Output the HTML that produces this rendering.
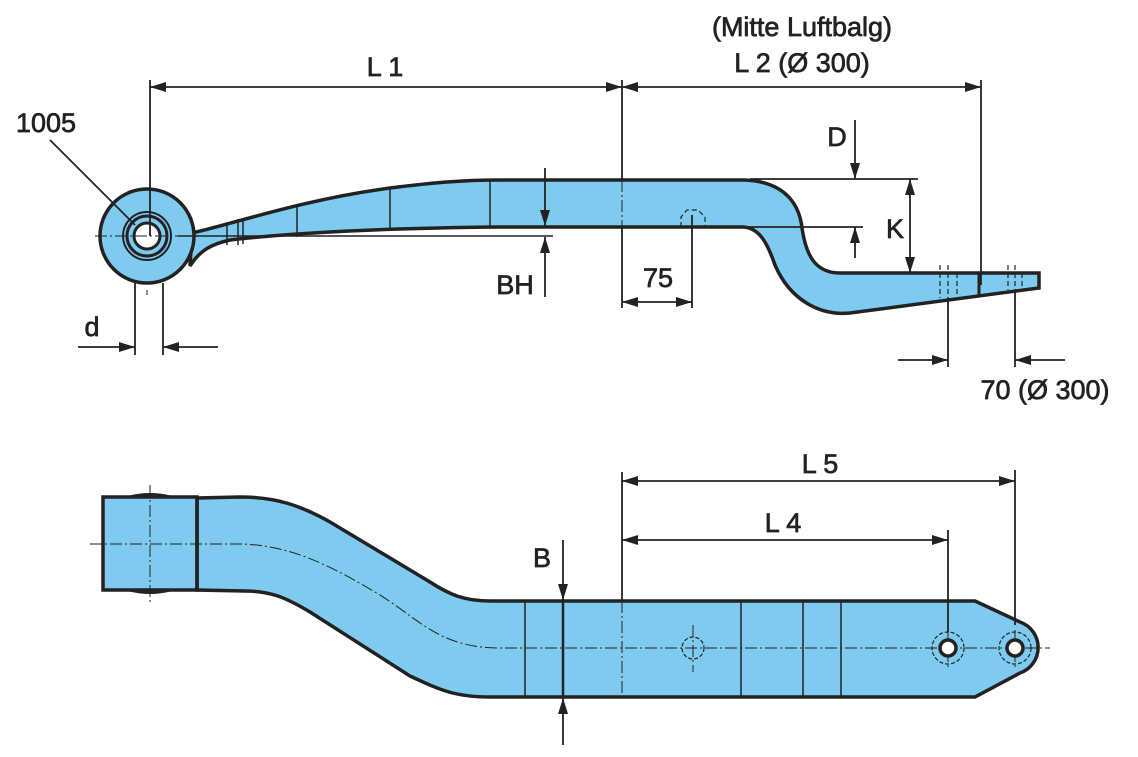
<!DOCTYPE html>
<html><head><meta charset="utf-8"><style>
html,body{margin:0;padding:0;background:#fff}
svg{display:block}
text{font-family:"Liberation Sans",sans-serif;font-size:27px;fill:#222;stroke:#222;stroke-width:0.7}
</style></head><body>
<svg width="1138" height="757" viewBox="0 0 1138 757" xmlns="http://www.w3.org/2000/svg">
<defs>
<marker id="a" viewBox="0 0 16 10" refX="16" refY="5" markerWidth="16" markerHeight="10" markerUnits="userSpaceOnUse" orient="auto-start-reverse"><path d="M0,0 L16,5 L0,10 z" fill="#222"/></marker>
</defs>
<g stroke="#222" fill="none">
<path d="M192,233 C230,225 300,200 390,188 C430,183 460,180 500,180 L745,180 C790,182 800,210 802,228 C806,255 815,273 840,273 L1039,273 L1039,288 L850,313 C820,316 790,300 775,265 C768,245 760,227 742,227 L500,227 C400,228 300,232 230,240 C212,244 200,250 190,266 Z" fill="#7ecbef" stroke-width="3.5"/>
<circle cx="147" cy="236" r="47" fill="#7ecbef" stroke-width="3.5"/>
<circle cx="147" cy="236" r="24" stroke-width="2"/>
<circle cx="147" cy="236" r="20" stroke-width="3"/>
<circle cx="147" cy="236" r="13" fill="#fff" stroke-width="3"/>
<g stroke-width="1.5">
<line x1="227" y1="222" x2="227" y2="245"/><line x1="238" y1="219" x2="238" y2="245"/><line x1="243" y1="218" x2="243" y2="244"/>
<line x1="297" y1="207" x2="297" y2="237"/><line x1="390" y1="188" x2="390" y2="231"/><line x1="490" y1="180" x2="490" y2="228"/>
<line x1="178" y1="236" x2="553" y2="236"/>
<line x1="979" y1="273" x2="979" y2="296" stroke-width="3"/>
</g>
<g stroke-width="1.2" stroke-dasharray="5,3">
<line x1="940" y1="265" x2="940" y2="298"/><line x1="948" y1="265" x2="948" y2="298"/><line x1="957" y1="273" x2="957" y2="296"/>
<line x1="1008" y1="265" x2="1008" y2="290"/><line x1="1015" y1="265" x2="1015" y2="290"/><line x1="1022" y1="273" x2="1022" y2="288"/>
<path d="M681,227 L681,217 L687,210 L698,210 L705,217 L705,227"/>
</g>
<g stroke-width="1" stroke-dasharray="12,3,2,3">
<line x1="95" y1="236" x2="200" y2="236"/><line x1="147" y1="290" x2="147" y2="295"/>
<line x1="622" y1="180" x2="622" y2="227"/>
</g>
<g stroke-width="1.8">
<line x1="150" y1="80" x2="150" y2="236"/>
<line x1="622" y1="80" x2="622" y2="180"/><line x1="622" y1="227" x2="622" y2="308"/>
<line x1="981" y1="80" x2="981" y2="285"/>
<line x1="150" y1="87" x2="622" y2="87" marker-start="url(#a)" marker-end="url(#a)"/>
<line x1="622" y1="87" x2="981" y2="87" marker-start="url(#a)" marker-end="url(#a)"/>
<line x1="750" y1="179" x2="918" y2="179"/><line x1="745" y1="227" x2="863" y2="227"/>
<line x1="855" y1="120" x2="855" y2="179" marker-end="url(#a)"/>
<line x1="855" y1="258" x2="855" y2="227" marker-end="url(#a)"/>
<line x1="910" y1="179" x2="910" y2="273" marker-start="url(#a)" marker-end="url(#a)"/>
<line x1="545" y1="168" x2="545" y2="226" marker-end="url(#a)"/>
<line x1="545" y1="297" x2="545" y2="237" marker-end="url(#a)"/>
<line x1="692" y1="215" x2="692" y2="308"/>
<line x1="622" y1="302" x2="692" y2="302" marker-start="url(#a)" marker-end="url(#a)"/>
<line x1="135" y1="283" x2="135" y2="355"/><line x1="163" y1="283" x2="163" y2="355"/>
<line x1="78" y1="347" x2="135" y2="347" marker-end="url(#a)"/>
<line x1="218" y1="347" x2="163" y2="347" marker-end="url(#a)"/>
<line x1="948" y1="298" x2="948" y2="367"/><line x1="1015" y1="290" x2="1015" y2="367"/>
<line x1="898" y1="360" x2="948" y2="360" marker-end="url(#a)"/>
<line x1="1065" y1="360" x2="1015" y2="360" marker-end="url(#a)"/>
<line x1="50" y1="140" x2="135" y2="225"/>
</g>

<path d="M197,498 L240,497 C275,497 300,505 330,522 L430,582 C450,595 465,601 490,601 L975,601 L1020,622 A27,27 0 0 1 1020,673 L975,697 L490,697 C455,697 440,690 410,676 L310,612 C285,597 270,591 245,591 L197,590 Z" fill="#7ecbef" stroke-width="3.5"/>
<rect x="103" y="497" width="94" height="93" fill="#7ecbef" stroke-width="3.5"/>
<line x1="197" y1="497" x2="197" y2="590" stroke-width="3.5"/>
<path d="M130,497 Q150,492 170,497 M130,590 Q150,595 170,590" stroke-width="3"/>
<g stroke-width="1.5">
<line x1="525" y1="601" x2="525" y2="697"/><line x1="741" y1="601" x2="741" y2="697"/>
<line x1="803" y1="601" x2="803" y2="697"/><line x1="841" y1="601" x2="841" y2="697"/>
</g>
<g stroke-width="1" stroke-dasharray="12,3,2,3">
<path d="M90,544 L240,544 C290,545 330,565 380,595 C420,620 440,648 500,648 L1050,648"/>
<line x1="150" y1="485" x2="150" y2="605"/>
<line x1="622" y1="601" x2="622" y2="697"/>
<line x1="693" y1="625" x2="693" y2="672"/>
<line x1="948" y1="630" x2="948" y2="668"/><line x1="1015" y1="630" x2="1015" y2="668"/>
</g>
<g stroke-width="1.2" stroke-dasharray="4,2">
<circle cx="693" cy="648" r="11"/>
<circle cx="948" cy="648" r="16"/><circle cx="1015" cy="648" r="16"/>
</g>
<circle cx="948" cy="648" r="8" fill="#fff" stroke-width="3.5"/>
<circle cx="1015" cy="648" r="8" fill="#fff" stroke-width="3.5"/>
<g stroke-width="1.8">
<line x1="622" y1="472" x2="622" y2="601"/>
<line x1="1015" y1="470" x2="1015" y2="625"/>
<line x1="948" y1="530" x2="948" y2="632"/>
<line x1="622" y1="481" x2="1015" y2="481" marker-start="url(#a)" marker-end="url(#a)"/>
<line x1="622" y1="540" x2="948" y2="540" marker-start="url(#a)" marker-end="url(#a)"/>
<line x1="563" y1="540" x2="563" y2="600" marker-end="url(#a)"/>
<line x1="563" y1="745" x2="563" y2="698" marker-end="url(#a)"/>
<line x1="563" y1="601" x2="563" y2="697" stroke-width="2.5"/>
</g>
</g>
<g>
<text x="802" y="36" text-anchor="middle">(Mitte  Luftbalg)</text>
<text x="802" y="72" text-anchor="middle">L  2  (Ø  300)</text>
<text x="385" y="76" text-anchor="middle">L  1</text>
<text x="46" y="132" text-anchor="middle">1005</text>
<text x="837" y="146" text-anchor="middle">D</text>
<text x="895" y="238" text-anchor="middle">K</text>
<text x="515" y="294" text-anchor="middle">BH</text>
<text x="658" y="287" text-anchor="middle">75</text>
<text x="92" y="336" text-anchor="middle">d</text>
<text x="1045" y="399" text-anchor="middle">70  (Ø  300)</text>
<text x="820" y="473" text-anchor="middle">L  5</text>
<text x="783" y="532" text-anchor="middle">L  4</text>
<text x="542" y="567" text-anchor="middle">B</text>
</g>
</svg>
</body></html>
